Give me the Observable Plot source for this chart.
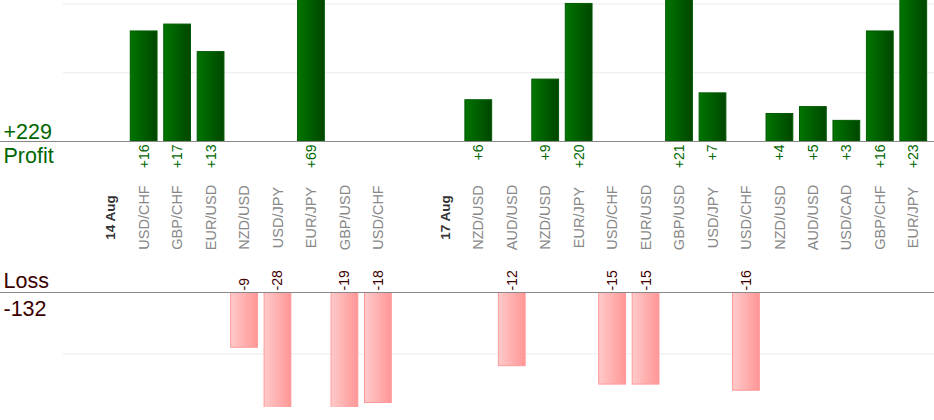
<!DOCTYPE html>
<html>
<head>
<meta charset="utf-8">
<script src="https://cdn.jsdelivr.net/npm/d3@7"></script>
<script src="https://cdn.jsdelivr.net/npm/@observablehq/plot@0.6"></script>
<style>
  html, body { margin: 0; padding: 0; background: #fff; }
  #chart { width: 934px; }
  #chart svg { display: block; }
</style>
</head>
<body>
<div id="chart"></div>
<script>
// Slots along the x axis (empty strings are spacer slots)
const slots = ["", "14 Aug", "USD/CHF", "GBP/CHF", "EUR/USD", "NZD/USD", "USD/JPY", "EUR/JPY", "GBP/USD", "USD/CHF",
               "", "17 Aug", "NZD/USD", "AUD/USD", "NZD/USD", "EUR/JPY", "USD/CHF", "EUR/USD", "GBP/USD", "USD/JPY",
               "USD/CHF", "NZD/USD", "AUD/USD", "USD/CAD", "GBP/CHF", "EUR/JPY"];
const isDate = [false, true, false, false, false, false, false, false, false, false,
                false, true, false, false, false, false, false, false, false, false,
                false, false, false, false, false, false];
const profit = [null, null, 16, 17, 13, null, null, 69, null, null,
                null, null, 6, null, 9, 20, null, null, 21, 7,
                null, 4, 5, 3, 16, 23];
const loss = [null, null, null, null, null, -9, -28, null, -19, -18,
              null, null, null, -12, null, null, -15, -15, null, null,
              -16, null, null, null, null, null];
const topGrid = [10, 20];
const bottomGrid = [-10];

const rows = slots.map((label, i) => ({i, label, date: isDate[i], profit: profit[i], loss: loss[i]}));
const profitRows = rows.filter(d => d.profit != null);
const lossRows = rows.filter(d => d.loss != null);
const totalProfit = d3.sum(profit);
const totalLoss = d3.sum(loss);
const idx = rows.map(d => d.i);

const font = "'Liberation Sans', Arial, Helvetica, sans-serif";
const xScale = {type: "band", domain: idx, range: [60, 930], paddingInner: 0.2, paddingOuter: 0.1, round: false, axis: null};

const topPlot = Plot.plot({
  width: 934, height: 255,
  marginTop: 0, marginBottom: 114, marginLeft: 0, marginRight: 0,
  x: xScale,
  y: {domain: [0, 20.5], axis: null},
  style: {fontFamily: font, background: "white"},
  marks: [
    Plot.ruleY(topGrid, {insetLeft: 63, stroke: "#ebebeb", strokeWidth: 1}),
    Plot.barY(profitRows, {x: "i", y: "profit", fill: "url(#gradGreen)", stroke: "#005c00", strokeWidth: 1, clip: true}),
    Plot.ruleY([0], {stroke: "#888", strokeWidth: 1}),
    Plot.text(profitRows, {x: "i", y: 0, text: d => "+" + d.profit, rotate: -90, textAnchor: "end", dy: 3, fill: "#006600", fontSize: 14}),
    Plot.text(rows.filter(d => !d.date && d.label), {x: "i", y: 0, text: "label", rotate: -90, textAnchor: "middle", dy: 76, fill: "#888", fontSize: 14.5}),
    Plot.text(rows.filter(d => d.date), {x: "i", y: 0, text: "label", rotate: -90, textAnchor: "middle", dy: 76, fill: "#333", fontSize: 13.5, fontWeight: "bold"}),
    Plot.text(["+" + totalProfit], {frameAnchor: "bottom-left", textAnchor: "start", lineAnchor: "bottom", dx: 3, dy: -3, fill: "#006600", fontSize: 21.5}),
    Plot.text(["Profit"], {frameAnchor: "bottom-left", textAnchor: "start", lineAnchor: "bottom", dx: 3, dy: 21, fill: "#006600", fontSize: 21.5})
  ]
});

const bottomPlot = Plot.plot({
  width: 934, height: 165,
  marginTop: 37, marginBottom: 13, marginLeft: 0, marginRight: 0,
  x: xScale,
  y: {domain: [0, -18.73], range: [37, 152], axis: null},
  style: {fontFamily: font, background: "white"},
  marks: [
    Plot.ruleY(bottomGrid, {insetLeft: 63, stroke: "#ebebeb", strokeWidth: 1}),
    Plot.barY(lossRows, {x: "i", y1: 0, y2: "loss", fill: "url(#gradRed)", stroke: "#ff9999", strokeWidth: 1, clip: true}),
    Plot.ruleY([0], {stroke: "#888", strokeWidth: 1}),
    Plot.text(lossRows, {x: "i", y: 0, text: d => String(d.loss), rotate: -90, textAnchor: "start", dy: -2, fill: "#400000", fontSize: 14}),
    Plot.text(["Loss"], {frameAnchor: "top-left", textAnchor: "start", lineAnchor: "bottom", dx: 3, dy: -5, fill: "#3a0000", fontSize: 21.5}),
    Plot.text([String(totalLoss)], {frameAnchor: "top-left", textAnchor: "start", lineAnchor: "bottom", dx: 3, dy: 23, fill: "#3a0000", fontSize: 21.5})
  ]
});

function addGradient(svg, id, c0, c1) {
  let defs = d3.select(svg).select("defs");
  if (defs.empty()) defs = d3.select(svg).insert("defs", ":first-child");
  const g = defs.append("linearGradient").attr("id", id)
    .attr("x1", "0%").attr("x2", "100%").attr("y1", "0%").attr("y2", "0%");
  g.append("stop").attr("offset", "0%").attr("stop-color", c0);
  g.append("stop").attr("offset", "100%").attr("stop-color", c1);
}
addGradient(topPlot, "gradGreen", "#007500", "#004600");
addGradient(bottomPlot, "gradRed", "#ffcaca", "#ff9696");

const chart = document.getElementById("chart");
chart.appendChild(topPlot);
chart.appendChild(bottomPlot);
</script>
</body>
</html>
